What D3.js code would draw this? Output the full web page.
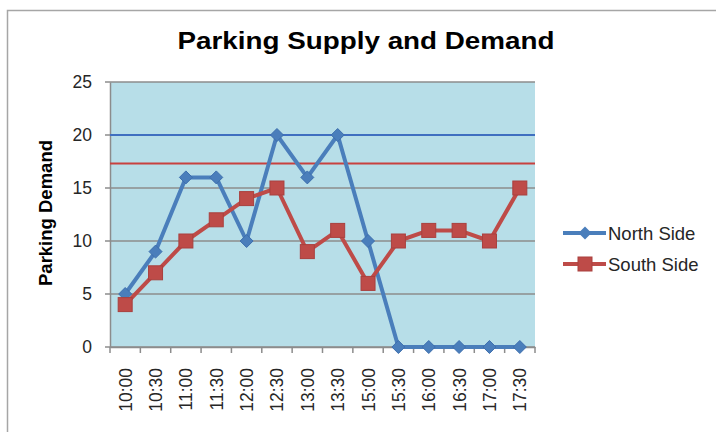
<!DOCTYPE html>
<html><head><meta charset="utf-8">
<script src="https://cdn.jsdelivr.net/npm/d3@7"></script>
<style>body{margin:0;background:#fff;}svg{display:block;font-family:"Liberation Sans",Arial,sans-serif;}</style>
</head><body>
<svg id="c" width="716" height="432"></svg>
<script>
const categories = ["10:00","10:30","11:00","11:30","12:00","12:30","13:00","13:30","15:00","15:30","16:00","16:30","17:00","17:30"];
const northSide = [5,9,16,16,10,20,16,20,10,0,0,0,0,0];
const southSide = [4,7,10,12,14,15,9,11,6,10,11,11,10,15];
const northSupply = 20;
const southSupply = 17.3;
const yTicks = [0,5,10,15,20,25];
const seriesNames = ["North Side","South Side"];

const svg = d3.select("#c");
const L=110, R=535, T=82, B=347;
const x = d3.scaleBand().domain(categories).range([L,R]);
const y = d3.scaleLinear().domain([0,25]).range([B,T]);

// outer border (cropped)
svg.append("path").attr("d","M7.5,440V10.5H720").attr("fill","none").attr("stroke","#a6a6a6").attr("stroke-width",1.5);

// title
svg.append("text").attr("x",366).attr("y",49).attr("text-anchor","middle")
  .attr("font-size",24).attr("font-weight","bold").attr("fill","#000")
  .attr("textLength",377).attr("lengthAdjust","spacingAndGlyphs")
  .text("Parking Supply and Demand");

// plot area
svg.append("rect").attr("x",L).attr("y",T).attr("width",R-L).attr("height",B-T).attr("fill","#b7dee8");

// gridlines
svg.append("g").selectAll("line").data(yTicks).join("line")
  .attr("x1",L-5).attr("x2",R).attr("y1",d=>y(d)).attr("y2",d=>y(d))
  .attr("stroke","#8c8c8c").attr("stroke-width",1.5);

// y axis
const yAxis = svg.append("g").attr("transform",`translate(${L},0)`)
  .call(d3.axisLeft(y).tickValues(yTicks).tickSize(0).tickPadding(18));
yAxis.select(".domain").attr("stroke","#8c8c8c").attr("stroke-width",1.5);
yAxis.selectAll("text").attr("font-size",17.5).attr("fill","#262626").attr("font-family","Liberation Sans, Arial, sans-serif");

// x axis
const xAxis = svg.append("g").attr("transform",`translate(0,${B})`)
  .call(d3.axisBottom(x).tickSize(0).tickFormat(""));
xAxis.select(".domain").attr("stroke","#8c8c8c").attr("stroke-width",1.5);
const bounds = categories.map(c=>x(c)).concat([R]);
svg.append("g").selectAll("line").data(bounds).join("line")
  .attr("x1",d=>d).attr("x2",d=>d).attr("y1",B).attr("y2",B+6)
  .attr("stroke","#8c8c8c").attr("stroke-width",1.5);
svg.append("g").selectAll("text").data(categories).join("text")
  .attr("transform",d=>`translate(${x(d)+x.bandwidth()/2+6.5},368) rotate(-90)`)
  .attr("text-anchor","end").attr("font-size",17.5).attr("fill","#262626")
  .text(d=>d);

// y label
svg.append("text").attr("transform","translate(52,213) rotate(-90)")
  .attr("text-anchor","middle").attr("font-size",18.5).attr("font-weight","bold").attr("fill","#000")
  .text("Parking Demand");

// supply lines
svg.append("line").attr("x1",L).attr("x2",R).attr("y1",y(northSupply)).attr("y2",y(northSupply))
  .attr("stroke","#3f6fc0").attr("stroke-width",2);
svg.append("line").attr("x1",L).attr("x2",R).attr("y1",y(southSupply)).attr("y2",y(southSupply))
  .attr("stroke","#c8413e").attr("stroke-width",2);

const cx = d=>x(d)+x.bandwidth()/2;
const blue="#4a7ebb", red="#be4b48";
const line = d3.line().x(d=>cx(d.c)).y(d=>y(d.v));
const nData = categories.map((c,i)=>({c,v:northSide[i]}));
const sData = categories.map((c,i)=>({c,v:southSide[i]}));

svg.append("path").datum(nData).attr("d",line).attr("fill","none").attr("stroke",blue).attr("stroke-width",4).attr("stroke-linejoin","round");
svg.append("path").datum(sData).attr("d",line).attr("fill","none").attr("stroke",red).attr("stroke-width",4).attr("stroke-linejoin","round");

const diamond = (px,py,s)=>`M${px},${py-s}L${px+s},${py}L${px},${py+s}L${px-s},${py}Z`;
svg.append("g").selectAll("path").data(nData).join("path")
  .attr("d",d=>diamond(cx(d.c),y(d.v),6.5)).attr("fill",blue).attr("stroke","#3d6fae").attr("stroke-width",1);
svg.append("g").selectAll("rect").data(sData).join("rect")
  .attr("x",d=>cx(d.c)-7).attr("y",d=>y(d.v)-7).attr("width",14).attr("height",14)
  .attr("fill",red).attr("stroke","#a9403e").attr("stroke-width",1);

// legend
const lg = svg.append("g");
[[233,blue,"d"],[264,red,"s"]].forEach(([ly,col,m],i)=>{
  lg.append("line").attr("x1",563).attr("x2",606).attr("y1",ly).attr("y2",ly).attr("stroke",col).attr("stroke-width",4);
  if(m==="d") lg.append("path").attr("d",diamond(585,ly,6.5)).attr("fill",col);
  else lg.append("rect").attr("x",578).attr("y",ly-7).attr("width",14).attr("height",14).attr("fill",col).attr("stroke","#a9403e");
  lg.append("text").attr("x",608).attr("y",ly+6.5).attr("font-size",18.5).attr("fill","#262626").text(seriesNames[i]);
});
</script>
</body></html>
